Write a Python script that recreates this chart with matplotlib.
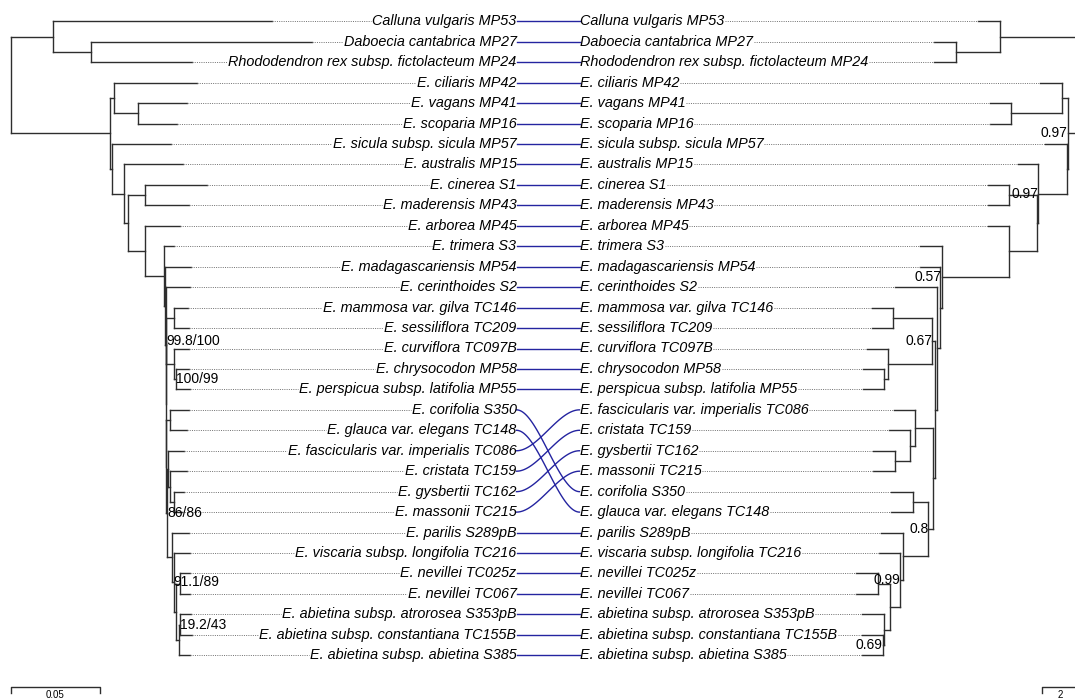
import matplotlib
matplotlib.use("Agg")
import matplotlib.pyplot as plt
from matplotlib.collections import LineCollection
import numpy as np

plt.rcParams['font.family'] = ['Liberation Sans', 'DejaVu Sans']

# ---------------- data ----------------
left_labels = [
    "Calluna vulgaris MP53", "Daboecia cantabrica MP27",
    "Rhododendron rex subsp. fictolacteum MP24", "E. ciliaris MP42", "E. vagans MP41",
    "E. scoparia MP16", "E. sicula subsp. sicula MP57", "E. australis MP15",
    "E. cinerea S1", "E. maderensis MP43", "E. arborea MP45", "E. trimera S3",
    "E. madagascariensis MP54", "E. cerinthoides S2", "E. mammosa var. gilva TC146",
    "E. sessiliflora TC209", "E. curviflora TC097B", "E. chrysocodon MP58",
    "E. perspicua subsp. latifolia MP55", "E. corifolia S350",
    "E. glauca var. elegans TC148", "E. fascicularis var. imperialis TC086",
    "E. cristata TC159", "E. gysbertii TC162", "E. massonii TC215",
    "E. parilis S289pB", "E. viscaria subsp. longifolia TC216", "E. nevillei TC025z",
    "E. nevillei TC067", "E. abietina subsp. atrorosea S353pB",
    "E. abietina subsp. constantiana TC155B", "E. abietina subsp. abietina S385"]

right_labels = [
    "Calluna vulgaris MP53", "Daboecia cantabrica MP27",
    "Rhododendron rex subsp. fictolacteum MP24", "E. ciliaris MP42", "E. vagans MP41",
    "E. scoparia MP16", "E. sicula subsp. sicula MP57", "E. australis MP15",
    "E. cinerea S1", "E. maderensis MP43", "E. arborea MP45", "E. trimera S3",
    "E. madagascariensis MP54", "E. cerinthoides S2", "E. mammosa var. gilva TC146",
    "E. sessiliflora TC209", "E. curviflora TC097B", "E. chrysocodon MP58",
    "E. perspicua subsp. latifolia MP55", "E. fascicularis var. imperialis TC086",
    "E. cristata TC159", "E. gysbertii TC162", "E. massonii TC215",
    "E. corifolia S350", "E. glauca var. elegans TC148",
    "E. parilis S289pB", "E. viscaria subsp. longifolia TC216", "E. nevillei TC025z",
    "E. nevillei TC067", "E. abietina subsp. atrorosea S353pB",
    "E. abietina subsp. constantiana TC155B", "E. abietina subsp. abietina S385"]

# Trees: tip = (name, depth from root); node = (depth, support label, child, child)
# ---- left tree (substitutions / site) ----
L_outgroup = (0.0236, None,
              ("Calluna vulgaris MP53", 0.1466),
              (0.0449, None,
               ("Daboecia cantabrica MP27", 0.1691),
               ("Rhododendron rex subsp. fictolacteum MP24", 0.1017)))
L_ciliaris = (0.0580, None,
              ("E. ciliaris MP42", 0.1045),
              (0.0713, None, ("E. vagans MP41", 0.0989), ("E. scoparia MP16", 0.0933)))
L_abietina = (0.0925, None,
              (0.0949, None, ("E. nevillei TC025z", 0.1006), ("E. nevillei TC067", 0.1006)),
              (0.0942, None,
               (0.0951, "19.2/43",
                ("E. abietina subsp. atrorosea S353pB", 0.1011),
                ("E. abietina subsp. constantiana TC155B", 0.1017)),
               ("E. abietina subsp. abietina S385", 0.1006)))
L_parilis = (0.0904, None,
             ("E. parilis S289pB", 0.1000),
             (0.0913, "91.1/89", ("E. viscaria subsp. longifolia TC216", 0.1006), L_abietina))
L_fasc = (0.0884, None,
          ("E. fascicularis var. imperialis TC086", 0.0972),
          (0.0893, None,
           ("E. cristata TC159", 0.0989),
           (0.0916, None, ("E. gysbertii TC162", 0.0972), ("E. massonii TC215", 0.0961))))
L_curvi = (0.0871, "99.8/100",
           (0.0916, None, ("E. mammosa var. gilva TC146", 0.0994), ("E. sessiliflora TC209", 0.1000)),
           (0.0917, None,
            ("E. curviflora TC097B", 0.1000),
            (0.0927, "100/99", ("E. chrysocodon MP58", 0.1000),
             ("E. perspicua subsp. latifolia MP55", 0.1006))))
L_cape = (0.0861, None,
          ("E. trimera S3", 0.0916),
          (0.0865, None,
           ("E. madagascariensis MP54", 0.1011),
           (0.0868, None,
            ("E. cerinthoides S2", 0.1006),
            (0.0870, None,
             L_curvi,
             (0.0872, None,
              (0.0893, None, ("E. corifolia S350", 0.1000), ("E. glauca var. elegans TC148", 0.0989)),
              (0.0876, "86/86", L_fasc, L_parilis))))))
L_sicula = (0.0567, None,
            ("E. sicula subsp. sicula MP57", 0.0899),
            (0.0635, None,
             ("E. australis MP15", 0.0966),
             (0.0657, None,
              (0.0753, None, ("E. cinerea S1", 0.1101), ("E. maderensis MP43", 0.1000)),
              (0.0753, None, ("E. arborea MP45", 0.0949), L_cape))))
left_tree = (0.0, None, L_outgroup, (0.0556, None, L_ciliaris, L_sicula))

# ---- right tree ----
R_outgroup = (4.44, None,
              ("Calluna vulgaris MP53", 5.65),
              (6.91, None,
               ("Daboecia cantabrica MP27", 8.11),
               ("Rhododendron rex subsp. fictolacteum MP24", 8.11)))
R_ciliaris = (1.02, None,
              ("E. ciliaris MP42", 2.22),
              (3.83, None, ("E. vagans MP41", 5.0), ("E. scoparia MP16", 5.0)))
R_abietina = (10.56, None,
              (11.24, None, ("E. nevillei TC025z", 12.44), ("E. nevillei TC067", 12.44)),
              (10.87, None,
               ("E. abietina subsp. atrorosea S353pB", 12.13),
               (10.96, "0.69",
                ("E. abietina subsp. constantiana TC155B", 12.13),
                ("E. abietina subsp. abietina S385", 12.13))))
R_lower = (8.43, "0.8",
           (9.29, None, ("E. corifolia S350", 10.52), ("E. glauca var. elegans TC148", 10.52)),
           (9.85, None,
            ("E. parilis S289pB", 11.06),
            (10.0, "0.99", ("E. viscaria subsp. longifolia TC216", 11.15), R_abietina)))
R_fasc = (9.17, None,
          ("E. fascicularis var. imperialis TC086", 10.33),
          (9.44, None,
           ("E. cristata TC159", 10.59),
           (10.28, None, ("E. gysbertii TC162", 11.48), ("E. massonii TC215", 11.48))))
R_curvi = (8.21, "0.67",
           (10.41, None, ("E. mammosa var. gilva TC146", 11.57), ("E. sessiliflora TC209", 11.57)),
           (10.65, None,
            ("E. curviflora TC097B", 11.85),
            (10.87, None, ("E. chrysocodon MP58", 12.07),
             ("E. perspicua subsp. latifolia MP55", 12.07))))
R_cape = (7.68, "0.57",
          ("E. trimera S3", 8.89),
          (7.78, None,
           ("E. madagascariensis MP54", 8.89),
           (7.96, None,
            ("E. cerinthoides S2", 10.28),
            (8.08, None, R_curvi, (8.15, None, R_fasc, R_lower)))))
R_sicula = (0.74, None,
            ("E. sicula subsp. sicula MP57", 1.94),
            (2.32, "0.97",
             ("E. australis MP15", 3.43),
             (2.41, None,
              (3.94, None, ("E. cinerea S1", 5.13), ("E. maderensis MP43", 5.13)),
              (3.94, None, ("E. arborea MP45", 5.09), R_cape))))
right_tree = (0.0, None, R_outgroup, (0.68, "0.97", R_ciliaris, R_sicula))

left_scale_len = 0.05
right_scale_len = 2

# ---------------- layout (pixel space) ----------------
W, H = 1075, 698
fig = plt.figure(figsize=(W / 100, H / 100), dpi=100)
ax = fig.add_axes([0, 0, 1, 1])
ax.set_xlim(0, W)
ax.set_ylim(H, 0)
ax.axis('off')

ROW0, DROW = 21.3, 20.45
L_ROOT, L_SCALE = 11.0, 1780.0
R_ROOT, R_SCALE = 1080.0, 18.0
L_TEXT_X, R_TEXT_X = 516.5, 579.5
BR_COL = '#2e2e2e'
LINK_COL = '#2424a0'


def row_y(i):
    return ROW0 + DROW * i


def layout(node, order, xf, segs, tips, sups):
    if isinstance(node[0], str):
        name, d = node
        x, y = xf(d), row_y(order.index(name))
        tips.append((name, x, y))
        return x, y
    d, sup, *kids = node
    x = xf(d)
    ys = []
    for k in kids:
        kx, ky = layout(k, order, xf, segs, tips, sups)
        segs.append([(x, ky), (kx, ky)])
        ys.append(ky)
    segs.append([(x, min(ys)), (x, max(ys))])
    y = (ys[0] + ys[-1]) / 2
    if sup:
        sups.append((x, y, sup))
    return x, y


segL, tipsL, supL = [], [], []
layout(left_tree, left_labels, lambda d: L_ROOT + d * L_SCALE, segL, tipsL, supL)
segR, tipsR, supR = [], [], []
layout(right_tree, right_labels, lambda d: R_ROOT - d * R_SCALE, segR, tipsR, supR)
ax.add_collection(LineCollection(segL, colors=BR_COL, linewidths=1.0, capstyle='projecting'))
ax.add_collection(LineCollection(segR, colors=BR_COL, linewidths=1.0, capstyle='projecting'))

# tip labels + dotted leaders
fs = 10.4
fig.canvas.draw()
renderer = fig.canvas.get_renderer()
inv = ax.transData.inverted()
dots = []
for name, x, y in tipsL:
    t = ax.text(L_TEXT_X, y, name, ha='right', va='center', fontsize=fs, style='italic', color='black')
    bb = t.get_window_extent(renderer)
    x0 = inv.transform((bb.x0, bb.y0))[0]
    dots.append([(x, y), (x0 - 1, y)])
for name, x, y in tipsR:
    t = ax.text(R_TEXT_X, y, name, ha='left', va='center', fontsize=fs, style='italic', color='black')
    bb = t.get_window_extent(renderer)
    x1 = inv.transform((bb.x1, bb.y0))[0]
    dots.append([(x1 + 1, y), (x, y)])
ax.add_collection(LineCollection(dots, colors='#707070', linewidths=0.7, linestyles=(0, (1, 1.3))))

# links between the two trees
tt = np.linspace(0, 1, 80)
s = 3 * tt ** 2 - 2 * tt ** 3
for i, name in enumerate(left_labels):
    j = right_labels.index(name)
    y0, y1 = row_y(i), row_y(j)
    xs = L_TEXT_X + (R_TEXT_X - L_TEXT_X) * tt
    ys = y0 + (y1 - y0) * s
    ax.plot(xs, ys, color=LINK_COL, lw=1.0)

# support values
for x, y, s_ in supL:
    ax.text(x, y, s_, ha='left', va='center', fontsize=10, color='black')
for x, y, s_ in supR:
    ax.text(x, y, s_, ha='right', va='center', fontsize=10, color='black')

# scale bars
yb = 687
lx1 = L_ROOT + left_scale_len * L_SCALE
ax.plot([L_ROOT, L_ROOT, lx1, lx1], [yb + 6, yb, yb, yb + 6], color=BR_COL, lw=1.0)
ax.text((L_ROOT + lx1) / 2, yb + 3, f"{left_scale_len:g}", ha='center', va='top', fontsize=7)
rx0 = 1042.0
rx1 = rx0 + right_scale_len * R_SCALE
ax.plot([rx0, rx0, rx1, rx1], [yb + 6, yb, yb, yb + 6], color=BR_COL, lw=1.0)
ax.text((rx0 + rx1) / 2, yb + 3, f"{right_scale_len:g}", ha='center', va='top', fontsize=7)

fig.savefig("out.png", dpi=100)
